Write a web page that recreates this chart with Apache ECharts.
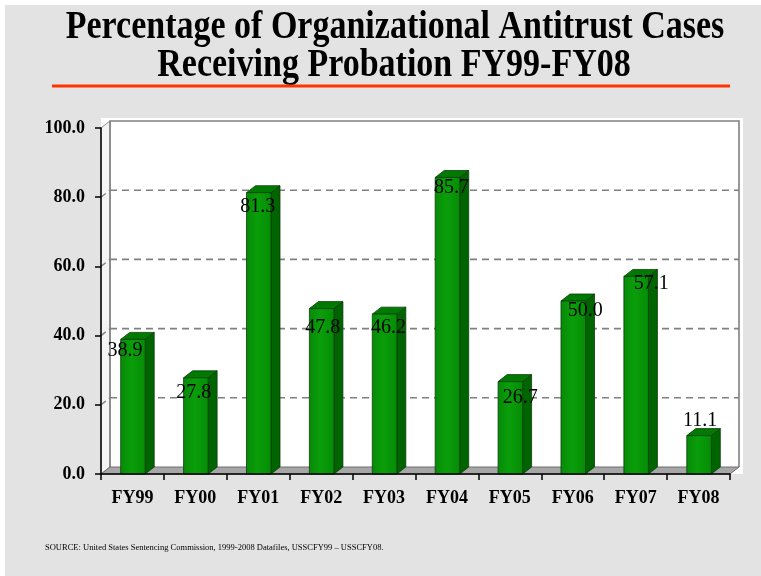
<!DOCTYPE html>
<html>
<head>
<meta charset="utf-8">
<script src="https://cdn.jsdelivr.net/npm/echarts@6/dist/echarts.min.js"></script>
<style>
  html, body { margin: 0; padding: 0; background: #ffffff; }
  #chart { width: 761px; height: 576px; }
</style>
</head>
<body>
<div id="chart"></div>
<script>
// Fiscal years on the category axis
const categories = ['FY99', 'FY00', 'FY01', 'FY02', 'FY03', 'FY04', 'FY05', 'FY06', 'FY07', 'FY08'];
// Percent of organizational antitrust cases sentenced to probation
const probationPct = [38.9, 27.8, 81.3, 47.8, 46.2, 85.7, 26.7, 50.0, 57.1, 11.1];
// Value axis range and step
const yMin = 0;
const yMax = 100;
const yStep = 20;

const titleLines = ['Percentage of Organizational Antitrust Cases', 'Receiving Probation FY99-FY08'];
const sourceNote = 'SOURCE: United States Sentencing Commission, 1999-2008 Datafiles, USSCFY99 \u2013 USSCFY08.';

// Pseudo-3D depth offset (pixels) for walls, floor and bars
const DX = 9, DY = -7;
// Per-bar label nudges relative to the top of each bar's front face
const labelNudge = [[-8, 11], [-2, 15], [-1, 14.5], [1, 19], [4, 13.5], [4, 10], [10, 16], [12, 9.5], [15, 7], [1, -15]];

const SERIF = '"Liberation Serif", "Times New Roman", Times, serif';

const chart = echarts.init(document.getElementById('chart'), null, { renderer: 'canvas' });

function renderWalls(params, api) {
  const cs = params.coordSys;
  const L = cs.x, R = cs.x + cs.width, T = cs.y, B = cs.y + cs.height;
  const kids = [];
  // white backdrop of the plot box
  kids.push({ type: 'rect', shape: { x: L, y: T + DY - 3, width: R - L + DX + 4, height: B - (T + DY - 3) },
    style: { fill: '#ffffff' }, silent: true });
  // left wall
  kids.push({ type: 'polygon', shape: { points: [[L, T], [L + DX, T + DY], [L + DX, B + DY], [L, B]] },
    style: { fill: '#f4f4f4', stroke: '#8a8a8a', lineWidth: 1 }, silent: true });
  // back wall outline
  kids.push({ type: 'polyline', shape: { points: [[L + DX, B + DY], [L + DX, T + DY], [R + DX, T + DY], [R + DX, B + DY]] },
    style: { fill: null, stroke: '#808080', lineWidth: 1.6 }, silent: true });
  // dashed gridlines
  for (let v = yMin + yStep; v < yMax; v += yStep) {
    const y = api.coord([0, v])[1];
    kids.push({ type: 'line', shape: { x1: L, y1: y, x2: L + DX, y2: y + DY },
      style: { stroke: '#808080', lineWidth: 1.4, lineDash: [6, 4] }, silent: true });
    kids.push({ type: 'line', shape: { x1: L + DX, y1: y + DY, x2: R + DX, y2: y + DY },
      style: { stroke: '#808080', lineWidth: 1.6, lineDash: [7, 5] }, silent: true });
  }
  // floor
  kids.push({ type: 'polygon', shape: { points: [[L, B], [L + DX, B + DY], [R + DX, B + DY], [R, B]] },
    style: { fill: '#a6a6a6', stroke: '#6e6e6e', lineWidth: 1 }, silent: true });
  return { type: 'group', children: kids };
}

function renderBar(params, api) {
  const i = api.value(0);
  const v = api.value(1);
  const base = api.coord([i, 0]);
  const top = api.coord([i, v]);
  const half = api.size([1, 0])[0] * 0.195;
  const cx = base[0] + 0.5;
  const x0 = cx - half, x1 = cx + half;
  const yT = top[1], yB = base[1];
  const edge = '#0b3d0b';
  const nudge = labelNudge[params.dataIndex] || [0, 12];
  return {
    type: 'group',
    children: [
      { type: 'polygon', shape: { points: [[x1, yT], [x1 + DX, yT + DY], [x1 + DX, yB + DY], [x1, yB]] },
        style: { fill: '#006400', stroke: edge, lineWidth: 0.8 } },
      { type: 'polygon', shape: { points: [[x0, yT], [x0 + DX, yT + DY], [x1 + DX, yT + DY], [x1, yT]] },
        style: { fill: '#007a00', stroke: edge, lineWidth: 0.8 } },
      { type: 'rect', shape: { x: x0, y: yT, width: x1 - x0, height: yB - yT },
        style: { fill: new echarts.graphic.LinearGradient(0, 0, 1, 0, [
            { offset: 0, color: '#078a07' }, { offset: 0.45, color: '#0a9e0a' }, { offset: 1, color: '#058c05' }]),
          stroke: edge, lineWidth: 0.8 } },
      { type: 'text', z2: 50, style: {
          text: v.toFixed(1), x: cx + nudge[0], y: yT + nudge[1],
          align: 'center', verticalAlign: 'middle',
          font: '20px ' + SERIF, fill: '#000000' } }
    ]
  };
}

const option = {
  backgroundColor: '#ffffff',
  animation: false,
  graphic: [
    { type: 'rect', z: -10, silent: true, shape: { x: 5, y: 5, width: 756, height: 571 }, style: { fill: '#e3e3e3' } },
    { type: 'text', silent: true, x: 395, y: 27.5, scaleY: 1.15,
      style: { text: titleLines[0], x: 0, y: 0, align: 'center', verticalAlign: 'middle',
        font: 'bold 34px ' + SERIF, fill: '#000000' } },
    { type: 'text', silent: true, x: 394, y: 65.5, scaleY: 1.15,
      style: { text: titleLines[1], x: 0, y: 0, align: 'center', verticalAlign: 'middle',
        font: 'bold 34px ' + SERIF, fill: '#000000' } },
    { type: 'line', silent: true, shape: { x1: 52, y1: 86, x2: 730, y2: 86 }, style: { stroke: '#ff3300', lineWidth: 3 } },
    { type: 'text', silent: true, style: { text: sourceNote, x: 45, y: 548, align: 'left', verticalAlign: 'middle',
        font: '8.5px ' + SERIF, fill: '#000000' } }
  ],
  grid: { left: 101, right: 31, top: 128, bottom: 102, containLabel: false },
  xAxis: {
    type: 'category', data: categories, z: 10,
    axisLine: { show: true, lineStyle: { color: '#000000', width: 1.5 } },
    axisTick: { show: true, alignWithLabel: false, length: 6, lineStyle: { color: '#000000', width: 1.5 } },
    axisLabel: { margin: 15, fontFamily: SERIF, fontWeight: 'bold', fontSize: 18, color: '#000000' },
    splitLine: { show: false }
  },
  yAxis: {
    type: 'value', min: yMin, max: yMax, interval: yStep, z: 10,
    axisLine: { show: true, lineStyle: { color: '#000000', width: 1.5 } },
    axisTick: { show: true, length: 6, lineStyle: { color: '#000000', width: 1.5 } },
    axisLabel: { margin: 16, fontFamily: SERIF, fontWeight: 'bold', fontSize: 18, color: '#000000',
      formatter: function (v) { return v.toFixed(1); } },
    splitLine: { show: false }
  },
  series: [
    { type: 'custom', name: 'walls', z: 1, silent: true, renderItem: renderWalls, data: [[0, 0]], clip: false },
    { type: 'custom', name: 'Probation', z: 3, renderItem: renderBar, clip: false,
      encode: { x: 0, y: 1 },
      data: probationPct.map(function (v, i) { return [i, v]; }) }
  ]
};

chart.setOption(option);
</script>
</body>
</html>
